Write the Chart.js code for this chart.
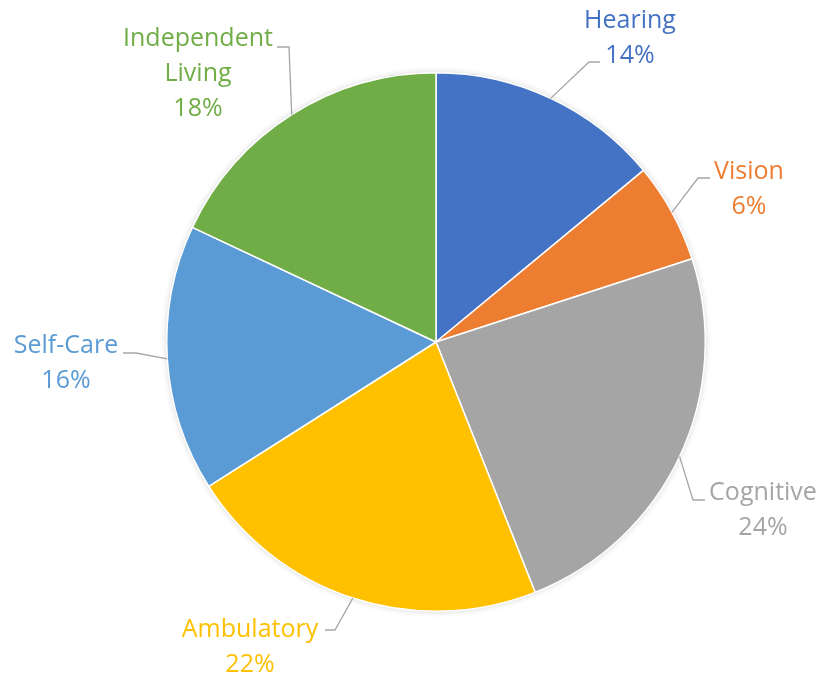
<!DOCTYPE html>
<html>
<head>
<meta charset="utf-8">
<script src="https://cdn.jsdelivr.net/npm/chart.js@4.4.1/dist/chart.umd.min.js"></script>
<style>
  html, body { margin: 0; padding: 0; background: #fff; }
  #wrap { width: 825px; height: 677px; position: relative; }
</style>
</head>
<body>
<div id="wrap"><canvas id="pieChart"></canvas></div>
<script>
// Categorías y valores (porcentajes)
const categories = ['Hearing', 'Vision', 'Cognitive', 'Ambulatory', 'Self-Care', 'Independent Living'];
const values = [14, 6, 24, 22, 16, 18];
const labelLines = [['Hearing'], ['Vision'], ['Cognitive'], ['Ambulatory'], ['Self-Care'], ['Independent', 'Living']];
const colors = ['#4472C4', '#ED7D31', '#A5A5A5', '#FFC000', '#5B9BD5', '#70AD47'];

// Ubicación de etiquetas, relativa al centro del pastel (x, y)
const labelLayout = [
    { text: [194, -304], elbow: [153, -280], end: [164, -280] },
    { text: [313, -153], elbow: [262, -164], end: [274, -164] },
    { text: [327, 168], elbow: [257, 158], end: [269, 158] },
    { text: [-186, 305], elbow: [-101, 288], end: [-111, 288] },
    { text: [-370, 21], elbow: [-300, 11], end: [-313, 11] },
    { text: [-238, -268], elbow: [-147, -295], end: [-159, -295] }
];

const outsideLabels = {
    id: 'outsideLabels',
    beforeDatasetsDraw(chart) {
        // sombra suave bajo el pastel
        const arc = chart.getDatasetMeta(0).data[0];
        const ctx = chart.ctx;
        ctx.save();
        ctx.shadowColor = 'rgba(0,0,0,0.22)';
        ctx.shadowBlur = 7;
        ctx.fillStyle = '#ffffff';
        ctx.beginPath();
        ctx.arc(arc.x, arc.y, arc.outerRadius - 0.5, 0, Math.PI * 2);
        ctx.fill();
        ctx.restore();
    },
    afterDatasetsDraw(chart) {
        const ctx = chart.ctx;
        const meta = chart.getDatasetMeta(0);
        ctx.save();
        ctx.font = '25px "Open Sans", "Noto Sans", sans-serif';
        ctx.textAlign = 'center';
        ctx.textBaseline = 'middle';
        meta.data.forEach((arc, i) => {
            const cx = arc.x, cy = arc.y;
            const mid = (arc.startAngle + arc.endAngle) / 2;
            const sx = cx + Math.cos(mid) * arc.outerRadius;
            const sy = cy + Math.sin(mid) * arc.outerRadius;
            const lay = labelLayout[i];

            // línea guía
            ctx.strokeStyle = '#A6A6A6';
            ctx.lineWidth = 1.3;
            ctx.beginPath();
            ctx.moveTo(sx, sy);
            ctx.lineTo(cx + lay.elbow[0], cy + lay.elbow[1]);
            ctx.lineTo(cx + lay.end[0], cy + lay.end[1]);
            ctx.stroke();

            // texto
            const lines = labelLines[i].concat([values[i] + '%']);
            const lh = 35;
            const tx = cx + lay.text[0];
            const ty = cy + lay.text[1] - (lines.length - 1) * lh / 2;
            ctx.fillStyle = colors[i];
            lines.forEach((t, j) => ctx.fillText(t, tx, ty + j * lh));
        });
        ctx.restore();
    }
};

new Chart(document.getElementById('pieChart'), {
    type: 'pie',
    data: {
        labels: categories,
        datasets: [{
            data: values,
            backgroundColor: colors,
            borderColor: '#ffffff',
            borderWidth: 1.5
        }]
    },
    options: {
        responsive: true,
        maintainAspectRatio: false,
        animation: false,
        layout: {
            padding: { top: 72, bottom: 65, left: 166, right: 119 }
        },
        plugins: {
            legend: { display: false },
            tooltip: { enabled: false }
        }
    },
    plugins: [outsideLabels]
});
</script>
</body>
</html>
